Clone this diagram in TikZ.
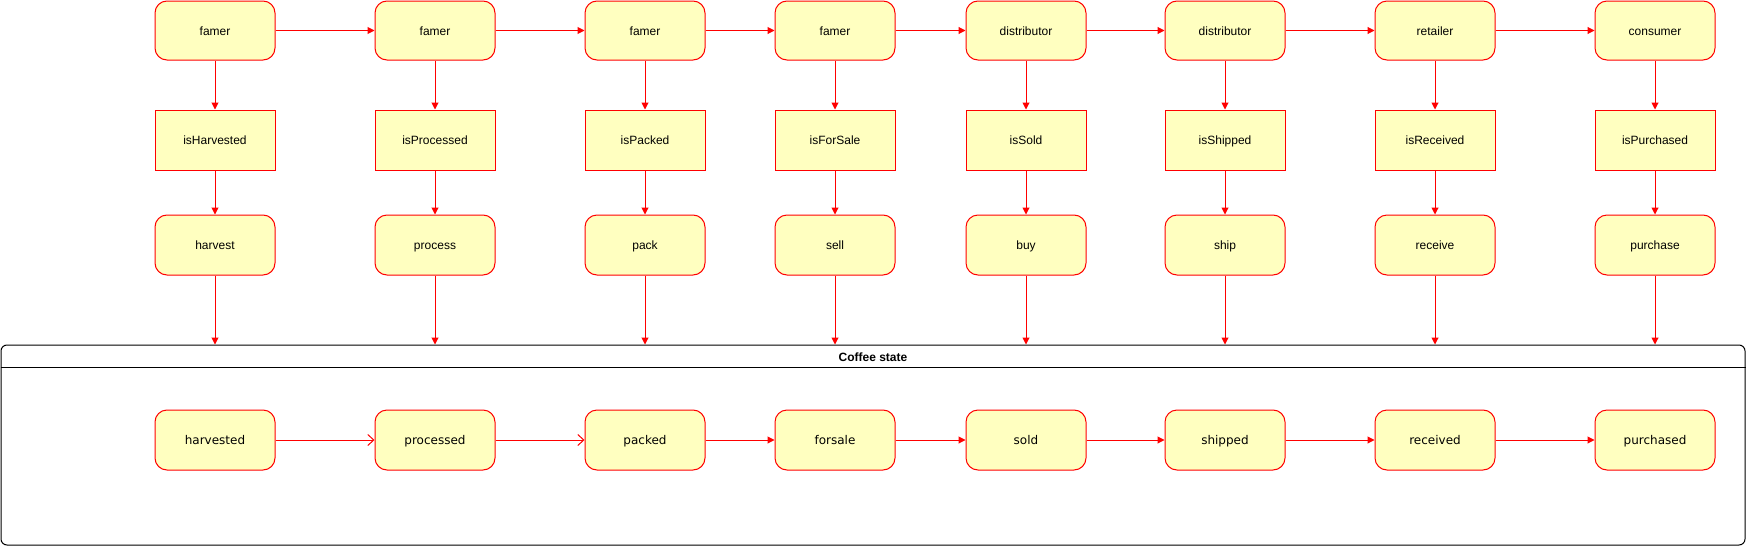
\documentclass[tikz,border=0pt]{standalone}
\usepackage{fontspec}
\setmainfont{Liberation Sans}
\newfontfamily\statefont{DejaVu Sans}
\usepackage{xcolor}
\usepackage{tikz}
\usetikzlibrary{arrows.meta,positioning,calc}
\definecolor{edge}{HTML}{FF0000}
\definecolor{pale}{HTML}{FFFFC0}
\tikzset{
  role/.style={rectangle,rounded corners=12pt,draw=edge,fill=pale,line width=1pt,minimum height=59pt,minimum width=120pt,inner sep=2pt,text height=10.5pt,text depth=1.5pt,font=\fontsize{12}{14}\selectfont,align=center},
  flag/.style={rectangle,draw=edge,fill=pale,line width=1pt,minimum height=60pt,minimum width=120pt,inner sep=2pt,text height=10.5pt,text depth=1.5pt,font=\fontsize{12}{14}\selectfont,align=center},
  func/.style={role,minimum height=60pt},
  state/.style={role,minimum height=60pt,font=\statefont\fontsize{12}{14}\selectfont},
  frame/.style={rectangle,rounded corners=6pt,draw=black,line width=1pt,minimum width=1744pt,minimum height=200pt,inner sep=0pt},
  arrow/.style={-{Triangle[length=7pt,width=7pt]},draw=edge,line width=1pt},
  openarrow/.style={-{Straight Barb[length=6pt,width=11pt]},draw=edge,line width=1pt}
}

\begin{document}
\begin{tikzpicture}[x=1pt,y=-1pt]
    \useasboundingbox (0,0) rectangle (1746,546);

    % columns: who does it, guard, action, resulting state
    \foreach \x/\who/\chk/\act/\st [count=\i] in {
        215/famer/isHarvested/harvest/harvested,
        435/famer/isProcessed/process/processed,
        645/famer/isPacked/pack/packed,
        835/famer/isForSale/sell/forsale,
        1026/distributor/isSold/buy/sold,
        1225/distributor/isShipped/ship/shipped,
        1435/retailer/isReceived/receive/received,
        1655/consumer/isPurchased/purchase/purchased} {
      \node[role] (r\i) at (\x,30.5) {\who};
      \node[flag] (g\i) at (\x,140) {\chk};
      \node[func] (a\i) at (\x,245) {\act};
      \node[state] (s\i) at (\x,440) {\st};
    }

    % Coffee state container
    \node[frame] (coffee) at (873,445) {};
    \draw[line width=1pt] ($(coffee.north west)+(0,23)$) coordinate (hl) -- (hl -| coffee.east);
    \node[font=\bfseries\fontsize{12}{14}\selectfont] (title) at (873,357) {Coffee state};

    \foreach \i [evaluate=\i as \j using int(\i+1)] in {1,...,7} {
      \draw[arrow] (r\i) -- (r\j);
    }
    \foreach \i in {1,...,8} {
      \draw[arrow] (r\i) -- (g\i);
      \draw[arrow] (g\i) -- (a\i);
      \draw[arrow] (a\i) -- (a\i |- coffee.north);
    }

    \draw[openarrow] (s1) -- (s2);
    \draw[openarrow] (s2) -- (s3);
    \foreach \i [evaluate=\i as \j using int(\i+1)] in {3,...,7} {
      \draw[arrow] (s\i) -- (s\j);
    }
\end{tikzpicture}
\end{document}
